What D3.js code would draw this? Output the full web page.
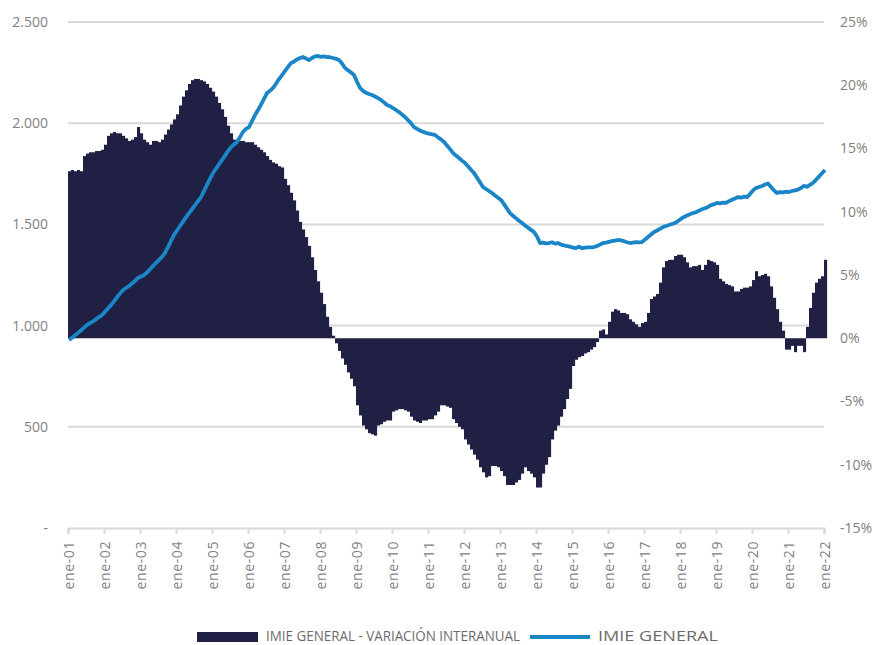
<!DOCTYPE html>
<html>
<head>
<meta charset="utf-8">
<script src="https://cdn.jsdelivr.net/npm/d3@7"></script>
<style>
  body { margin: 0; background: #fff; }
  svg text { font-family: "Open Sans", "Noto Sans", sans-serif; }
</style>
</head>
<body>
<svg id="chart" width="873" height="645"></svg>
<script>
/*
    Datos: IMIE General (eje izq.) y variacion interanual (eje dcho., %)
    mensual ene-01 ... ene-22
*/
var variacion = [
    13.2, 13.3, 13.2, 13.3, 13.2, 14.4, 14.6, 14.7, 14.7, 14.8, 14.8, 14.9,
    15.3, 16.0, 16.2, 16.3, 16.2, 16.2, 16.0, 15.8, 15.6, 15.7, 15.9, 16.7,
    16.2, 15.7, 15.5, 15.3, 15.6, 15.6, 15.5, 15.7, 16.1, 16.5, 16.9, 17.3,
    17.7, 18.4, 19.1, 19.6, 20.1, 20.4, 20.5, 20.5, 20.4, 20.3, 20.1, 19.8,
    19.5, 19.1, 18.6, 18.1, 17.5, 16.8, 16.2, 15.7, 15.6, 15.6, 15.6, 15.5,
    15.5, 15.5, 15.3, 15.1, 14.9, 14.7, 14.4, 14.1, 13.9, 13.8, 13.6, 13.5,
    12.6, 12.1, 11.5, 10.9, 10.1, 9.2, 8.6, 8.0, 7.3, 6.4, 5.4, 4.5,
    3.6, 2.7, 1.7, 0.9, 0.2, -0.4, -1.0, -1.6, -2.1, -2.7, -3.2, -3.8,
    -5.3, -6.1, -6.9, -7.2, -7.5, -7.6, -7.7, -6.9, -6.8, -6.6, -6.5, -6.5,
    -5.8, -5.7, -5.6, -5.6, -5.7, -5.8, -6.2, -6.5, -6.6, -6.7, -6.5, -6.5,
    -6.4, -6.4, -6.1, -5.8, -5.3, -5.3, -5.4, -5.5, -6.4, -6.7, -7.0, -7.2,
    -8.0, -8.4, -8.8, -9.2, -9.6, -10.2, -10.6, -11.0, -10.9, -10.1, -10.1, -10.2,
    -10.5, -10.9, -11.6, -11.6, -11.6, -11.4, -11.2, -10.7, -10.2, -10.5, -10.7, -11.0,
    -11.8, -11.8, -10.7, -10.0, -9.4, -8.0, -7.3, -6.9, -6.2, -5.6, -4.8, -4.0,
    -2.2, -1.7, -1.5, -1.4, -1.2, -1.1, -0.9, -0.7, -0.3, 0.6, 0.7, 0.3,
    1.3, 2.1, 2.3, 2.2, 2.0, 2.0, 1.9, 1.5, 1.3, 1.1, 0.9, 1.2,
    1.3, 2.0, 3.1, 3.3, 3.5, 4.4, 5.6, 6.1, 6.2, 6.2, 6.5, 6.6,
    6.6, 6.4, 6.0, 5.6, 5.7, 5.7, 5.8, 5.4, 5.8, 6.2, 6.1, 6.0,
    5.8, 4.7, 4.5, 4.3, 4.2, 4.1, 3.7, 3.7, 3.9, 4.0, 4.0, 4.1,
    4.6, 5.3, 4.9, 5.0, 5.1, 4.9, 4.1, 3.2, 2.3, 1.3, 0.6, -0.9,
    -0.9, -0.6, -1.1, -0.6, -0.6, -1.1, 0.9, 2.4, 3.6, 4.4, 4.7, 4.9,
    6.2
];

var imie = [
    929, 940, 952, 964, 976, 990, 1003, 1012, 1021, 1031, 1042, 1052,
    1068, 1085, 1101, 1120, 1140, 1158, 1176, 1186, 1196, 1208, 1220, 1236,
    1243, 1250, 1262, 1278, 1295, 1310, 1325, 1339, 1360, 1388, 1418, 1448,
    1470, 1492, 1514, 1535, 1556, 1575, 1595, 1615, 1635, 1665, 1695, 1725,
    1754, 1775, 1797, 1818, 1840, 1862, 1882, 1895, 1907, 1932, 1957, 1972,
    1981, 2010, 2040, 2065, 2092, 2120, 2149, 2160, 2174, 2195, 2218, 2238,
    2258, 2278, 2297, 2305, 2315, 2322, 2327, 2320, 2312, 2322, 2330, 2332,
    2328, 2330, 2327, 2326, 2322, 2318, 2312, 2295, 2273, 2262, 2250, 2238,
    2205, 2174, 2160, 2150, 2144, 2139, 2132, 2124, 2115, 2103, 2090, 2084,
    2075, 2065, 2055, 2043, 2031, 2015, 2000, 1981, 1972, 1964, 1957, 1952,
    1948, 1945, 1942, 1930, 1920, 1907, 1890, 1872, 1853, 1840, 1828, 1815,
    1803, 1787, 1770, 1754, 1731, 1708, 1685, 1675, 1665, 1655, 1643, 1632,
    1621, 1600, 1578, 1556, 1543, 1530, 1518, 1507, 1495, 1484, 1473, 1462,
    1440, 1408, 1410, 1406, 1408, 1412, 1405, 1408, 1400, 1396, 1393, 1390,
    1385, 1383, 1390, 1382, 1385, 1387, 1386, 1388, 1393, 1400, 1408, 1410,
    1414, 1418, 1420, 1423, 1421, 1417, 1412, 1408, 1410, 1412, 1411, 1413,
    1425, 1438, 1450, 1462, 1470, 1478, 1487, 1492, 1497, 1502, 1507, 1517,
    1527, 1537, 1544, 1550, 1556, 1560, 1568, 1575, 1580, 1586, 1595, 1600,
    1606, 1604, 1608, 1606, 1615, 1622, 1628, 1635, 1632, 1637, 1635, 1650,
    1668, 1680, 1685, 1690, 1697, 1702, 1685, 1668, 1655, 1660, 1658, 1662,
    1660, 1665, 1668, 1672, 1680, 1690, 1686, 1695, 1705, 1720, 1737, 1753,
    1769
];

var xTickLabels = ["ene-01", "ene-02", "ene-03", "ene-04", "ene-05", "ene-06", "ene-07",
    "ene-08", "ene-09", "ene-10", "ene-11", "ene-12", "ene-13", "ene-14", "ene-15",
    "ene-16", "ene-17", "ene-18", "ene-19", "ene-20", "ene-21", "ene-22"];
var leftTicks = [0, 500, 1000, 1500, 2000, 2500];
var rightTicks = [-15, -10, -5, 0, 5, 10, 15, 20, 25];
var legendLabels = ["IMIE GENERAL - VARIACIÓN INTERANUAL", "IMIE GENERAL"];

var navy = "#1f2044", blue = "#1a86c8", grid = "#d9d9d9", txt = "#7f7f7f";

var svg = d3.select("#chart");

var x = d3.scaleLinear().domain([0, imie.length - 1]).range([68, 824]);
var yL = d3.scaleLinear().domain([0, 2500]).range([528, 22]);
var yR = d3.scaleLinear().domain([-15, 25]).range([528, 22]);

var es = d3.formatLocale({decimal: ",", thousands: ".", grouping: [3], currency: ["", "€"]});
var fmtL = function(d){ return d === 0 ? "-" : es.format(",")(d); };

/*
    grid
*/
svg.append("g")
    .selectAll("line")
    .data(leftTicks.filter(function(d){ return d > 0; }))
    .join("line")
    .attr("x1", 68).attr("x2", 824)
    .attr("y1", function(d){ return yL(d); })
    .attr("y2", function(d){ return yL(d); })
    .attr("stroke", grid)
    .attr("stroke-width", 2);

/*
    bars - variacion interanual
*/
svg.append("g")
    .selectAll("rect")
    .data(variacion)
    .join("rect")
    .attr("x", function(d, i){ return x(i); })
    .attr("width", 3.1)
    .attr("y", function(d){ return Math.min(yR(d), yR(0)); })
    .attr("height", function(d){ return Math.abs(yR(d) - yR(0)); })
    .attr("fill", navy);

/*
    x axis
*/
var xAxis = d3.axisBottom(x)
    .tickValues(d3.range(0, imie.length, 12))
    .tickSize(6)
    .tickFormat(function(d, i){ return xTickLabels[i]; });

var gx = svg.append("g")
    .attr("transform", "translate(0,528)")
    .call(xAxis);
gx.select(".domain").attr("stroke", grid).attr("stroke-width", 2);
gx.selectAll(".tick line").attr("stroke", grid).attr("stroke-width", 2);
gx.selectAll(".tick text")
    .attr("fill", txt)
    .style("font-size", "14px")
    .style("letter-spacing", "0.6px")
    .attr("text-anchor", "end")
    .attr("transform", "rotate(-90)")
    .attr("x", -13)
    .attr("y", 0)
    .attr("dy", "0.36em");

/*
    left axis
*/
var gl = svg.append("g")
    .attr("transform", "translate(48,0)")
    .call(d3.axisLeft(yL).tickValues(leftTicks).tickSize(0).tickFormat(fmtL));
gl.select(".domain").remove();
gl.selectAll(".tick text")
    .attr("fill", txt)
    .attr("x", 0)
    .style("font-size", "14px");

/*
    right axis
*/
var gr = svg.append("g")
    .attr("transform", "translate(840,0)")
    .call(d3.axisRight(yR).tickValues(rightTicks).tickSize(0)
        .tickFormat(function(d){ return d + "%"; }));
gr.select(".domain").remove();
gr.selectAll(".tick text")
    .attr("fill", txt)
    .attr("x", 0)
    .style("font-size", "14px");

/*
    line - IMIE general
*/
var line = d3.line()
    .x(function(d, i){ return x(i) + 1; })
    .y(function(d){ return yL(d); });

svg.append("path")
    .datum(imie)
    .attr("d", line)
    .attr("fill", "none")
    .attr("stroke", blue)
    .attr("stroke-width", 3.8)
    .attr("stroke-linejoin", "round");

/*
    legend
*/
var lg = svg.append("g")
    .style("font-family", "'Liberation Sans Narrow', 'DejaVu Sans Condensed', sans-serif");
lg.append("rect")
    .attr("x", 197).attr("y", 632)
    .attr("width", 61).attr("height", 10)
    .attr("fill", navy);
lg.append("text")
    .attr("x", 266).attr("y", 641)
    .attr("fill", "#6b6b6b")
    .style("font-size", "14px")
    .attr("textLength", 254)
    .attr("lengthAdjust", "spacingAndGlyphs")
    .text(legendLabels[0]);
lg.append("line")
    .attr("x1", 530).attr("x2", 590)
    .attr("y1", 637).attr("y2", 637)
    .attr("stroke", blue)
    .attr("stroke-width", 4);
lg.append("text")
    .attr("x", 598).attr("y", 641)
    .attr("fill", "#6b6b6b")
    .style("font-size", "14px")
    .attr("textLength", 120)
    .attr("lengthAdjust", "spacingAndGlyphs")
    .text(legendLabels[1]);
</script>
</body>
</html>
